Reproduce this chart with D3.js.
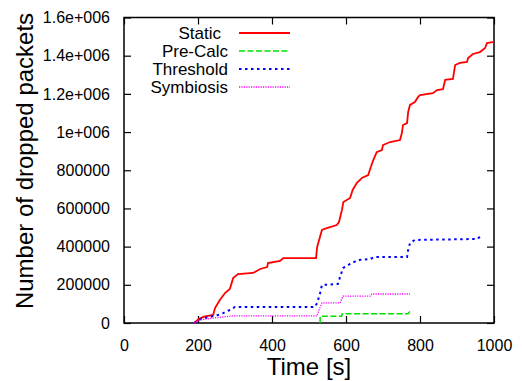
<!DOCTYPE html>
<html>
<head>
<meta charset="utf-8">
<script src="https://cdn.jsdelivr.net/npm/d3@7"></script>
<style>
  body { margin: 0; background: #fff; }
  text { font-family: "Liberation Sans", Arial, sans-serif; fill: #000; }
</style>
</head>
<body>
<div id="chart"></div>
<script>
// series names and data (time in s, dropped packets)
var seriesNames = ["Static", "Pre-Calc", "Threshold", "Symbiosis"];

var staticTime = [190, 201, 216, 241, 246, 259, 273, 286, 295, 308, 349, 368, 387, 389, 422, 430, 519, 522, 535, 548, 575, 581, 589, 593, 611, 618, 629, 643, 660, 667, 674, 683, 697, 700, 719, 746, 751, 754, 765, 768, 773, 786, 795, 800, 835, 846, 862, 868, 889, 895, 908, 927, 930, 943, 962, 976, 981, 1000];
var staticDrops = [0, 19000, 33000, 42000, 78000, 120000, 157000, 178000, 235000, 256000, 262000, 283000, 293000, 314000, 325000, 340000, 340000, 398000, 487000, 497000, 513000, 529000, 592000, 634000, 655000, 697000, 733000, 760000, 775000, 817000, 854000, 895000, 906000, 932000, 948000, 958000, 995000, 1037000, 1047000, 1105000, 1142000, 1157000, 1184000, 1194000, 1204000, 1220000, 1225000, 1273000, 1278000, 1351000, 1362000, 1367000, 1388000, 1409000, 1419000, 1440000, 1466000, 1472000];

var preCalcTime = [530, 530, 588, 590, 768, 773];
var preCalcDrops = [0, 35000, 35000, 48000, 48000, 62000];

var thresholdTime = [190, 200, 219, 254, 268, 286, 300, 516, 522, 530, 535, 578, 584, 592, 611, 632, 665, 678, 765, 768, 773, 786, 955, 962];
var thresholdDrops = [0, 16000, 26000, 42000, 52000, 68000, 84000, 84000, 105000, 157000, 199000, 204000, 241000, 288000, 309000, 330000, 335000, 346000, 346000, 382000, 419000, 435000, 440000, 452000];

var symbiosisTime = [190, 205, 241, 295, 522, 527, 535, 584, 592, 665, 670, 773];
var symbiosisDrops = [0, 16000, 26000, 37000, 37000, 68000, 105000, 105000, 141000, 141000, 152000, 152000];

var xTicks = [0, 200, 400, 600, 800, 1000];
var yTicks = [0, 200000, 400000, 600000, 800000, 1000000, 1200000, 1400000, 1600000];
var yTickLabels = ["0", "200000", "400000", "600000", "800000", "1e+006", "1.2e+006", "1.4e+006", "1.6e+006"];

var width = 522, height = 381;
var plotLeft = 124, plotRight = 494, plotTop = 17.5, plotBottom = 323;

var colors = ["#ff0000", "#00e000", "#0000ff", "#ff00ff"];
var dashes = [null, "6,2.5", "2.5,3.5", "1.2,1.2"];
var widths = [1.8, 1.5, 2, 1.3];

function zip(t, v) {
    return t.map(function (d, i) { return [d, v[i]]; });
}
var series = [
    zip(staticTime, staticDrops),
    zip(preCalcTime, preCalcDrops),
    zip(thresholdTime, thresholdDrops),
    zip(symbiosisTime, symbiosisDrops)
];

var svg = d3.select("#chart")
    .append("svg")
    .attr("width", width)
    .attr("height", height);

var x = d3.scaleLinear().domain([0, 1000]).range([plotLeft, plotRight]);
var y = d3.scaleLinear().domain([0, 1600000]).range([plotBottom, plotTop]);

// axes, ticks pointing inward on all four sides
var tickLen = 7;
svg.append("g")
    .attr("transform", "translate(0," + plotBottom + ")")
    .call(d3.axisBottom(x).tickValues(xTicks).tickSize(-tickLen).tickPadding(tickLen + 10)
        .tickFormat(d3.format("d")))
    .call(function (g) { g.selectAll("text").style("font-size", "16px"); });
svg.append("g")
    .attr("transform", "translate(0," + plotTop + ")")
    .call(d3.axisTop(x).tickValues(xTicks).tickSize(-tickLen).tickFormat(""));
svg.append("g")
    .attr("transform", "translate(" + plotLeft + ",0)")
    .call(d3.axisLeft(y).tickValues(yTicks).tickSize(-tickLen).tickPadding(tickLen + 7)
        .tickFormat(function (d, i) { return yTickLabels[i]; }))
    .call(function (g) { g.selectAll("text").style("font-size", "16px"); });
svg.append("g")
    .attr("transform", "translate(" + plotRight + ",0)")
    .call(d3.axisRight(y).tickValues(yTicks).tickSize(-tickLen).tickFormat(""));

svg.selectAll(".domain").remove();
svg.selectAll(".tick line").attr("stroke", "#000").attr("stroke-width", 1.2);

svg.append("rect")
    .attr("x", plotLeft).attr("y", plotTop)
    .attr("width", plotRight - plotLeft).attr("height", plotBottom - plotTop)
    .attr("fill", "none").attr("stroke", "#000").attr("stroke-width", 1.5);

var line = d3.line()
    .x(function (d) { return x(d[0]); })
    .y(function (d) { return y(d[1]); });

svg.selectAll("path.series")
    .data(series)
    .enter()
    .append("path")
    .attr("class", "series")
    .attr("d", line)
    .attr("fill", "none")
    .attr("stroke", function (d, i) { return colors[i]; })
    .attr("stroke-width", function (d, i) { return widths[i]; })
    .attr("stroke-dasharray", function (d, i) { return dashes[i]; });

// legend
var legend = svg.selectAll(".legend")
    .data(seriesNames)
    .enter()
    .append("g")
    .attr("class", "legend")
    .attr("transform", function (d, i) { return "translate(0," + (33 + i * 18) + ")"; });

legend.append("text")
    .attr("x", function (d, i) { return i === 0 ? 221 : 228; })
    .attr("dy", "0.35em")
    .attr("text-anchor", "end")
    .style("font-size", "17px")
    .text(function (d) { return d; });

legend.append("line")
    .attr("x1", 239).attr("x2", 290)
    .attr("stroke", function (d, i) { return colors[i]; })
    .attr("stroke-width", function (d, i) { return widths[i]; })
    .attr("stroke-dasharray", function (d, i) { return dashes[i]; });

// axis titles
svg.append("text")
    .attr("x", (plotLeft + plotRight) / 2)
    .attr("y", 375)
    .attr("text-anchor", "middle")
    .style("font-size", "24px")
    .text("Time [s]");

svg.append("text")
    .attr("transform", "translate(33,161) rotate(-90)")
    .attr("text-anchor", "middle")
    .style("font-size", "24px")
    .text("Number of dropped packets");
</script>
</body>
</html>
